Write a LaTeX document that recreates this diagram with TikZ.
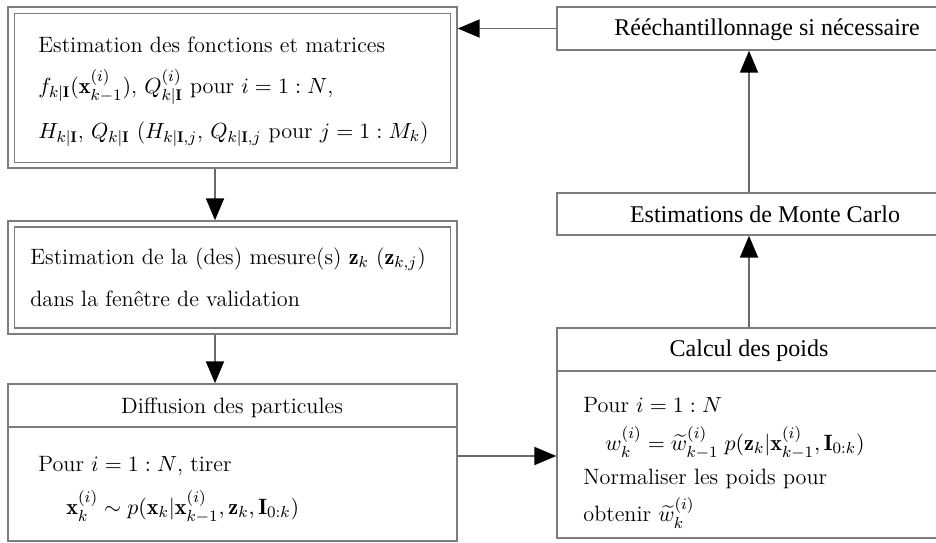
\documentclass[tikz,border=0pt]{standalone}
\usepackage{fontspec}
\usepackage{amsmath}
\newfontfamily\titlefont{Liberation Serif}
\usetikzlibrary{arrows.meta}
\definecolor{linegray}{RGB}{125,125,125}
\definecolor{arrowgray}{RGB}{105,105,105}
\tikzset{
  boxframe/.style={draw=linegray, line width=0.7pt, inner sep=0pt, fill=none},
  bodytext/.style={inner sep=0pt, font=\fontsize{11.1}{13}\selectfont},
  cmtitle/.style={inner sep=0pt, font=\fontsize{11.1}{13}\selectfont},
  tmtitle/.style={inner sep=0pt, font=\titlefont\fontsize{12}{14}\selectfont},
  flow/.style={draw=arrowgray, line width=0.95pt, -{Triangle[length=11pt,width=9pt,color=black]}},
  divider/.style={draw=linegray, line width=0.7pt}
}
\begin{document}
\begin{tikzpicture}[x=0.5pt,y=-0.5pt]
\useasboundingbox (0,0) rectangle (936,542);
\clip (0,0) rectangle (936,542);
\fill[white] (0,0) rectangle (936,542);

% Box 1 (double frame)
\node[boxframe, minimum width=224.5pt, minimum height=80.5pt] (b1) at (232.5,87.5) {};
\node[boxframe, minimum width=218pt, minimum height=74.5pt] (b1i) at (232.5,88) {};
\node[bodytext, anchor=base west] (b1l1) at (38,52) {Estimation des fonctions et matrices};
\node[bodytext, anchor=base west] (b1l2) at (38,93) {$f_{k|\mathbf{I}}(\mathbf{x}^{(i)}_{k-1})$, $Q^{(i)}_{k|\mathbf{I}}$ pour $i=1:N$,};
\node[bodytext, anchor=base west] (b1l3) at (38,138) {$H_{k|\mathbf{I}}$, $Q_{k|\mathbf{I}}$ ($H_{k|\mathbf{I},j}$, $Q_{k|\mathbf{I},j}$ pour $j=1:M_k$)};

% Box 2 (double frame)
\node[boxframe, minimum width=224.5pt, minimum height=56.5pt] (b2) at (232.5,277.5) {};
\node[boxframe, minimum width=218pt, minimum height=50.5pt] (b2i) at (232.5,277.5) {};
\node[bodytext, anchor=base west] (b2l1) at (30,264) {Estimation de la (des) mesure(s) $\mathbf{z}_k$ ($\mathbf{z}_{k,j}$)};
\node[bodytext, anchor=base west] (b2l2) at (30,306) {dans la fen\^etre de validation};

% Box 3 : Diffusion
\node[boxframe, minimum width=224.5pt, minimum height=78.5pt] (b3) at (232.5,462.5) {};
\coordinate (d3) at (0,427);
\draw[divider] (b3.west |- d3) -- (b3.east |- d3);
\node[cmtitle, anchor=base] (b3t) at (232,413) {Diffusion des particules};
\node[bodytext, anchor=base west] (b3l1) at (38,471) {Pour $i=1:N$, tirer};
\node[bodytext, anchor=base west] (b3l2) at (66,514) {$\mathbf{x}^{(i)}_k \sim p(\mathbf{x}_k|\mathbf{x}^{(i)}_{k-1},\mathbf{z}_k,\mathbf{I}_{0:k})$};

% Calcul des poids
\node[boxframe, minimum width=192pt, minimum height=105pt] (cp) at (749,433) {};
\coordinate (dc) at (0,371);
\draw[divider] (cp.west |- dc) -- (cp.east |- dc);
\node[tmtitle, anchor=base] (cpt) at (749,356) {Calcul des poids};
\node[bodytext, anchor=base west] (cpl1) at (583,412) {Pour $i=1:N$};
\node[bodytext, anchor=base west] (cpl2) at (605,450) {$w^{(i)}_k = \widetilde{w}^{(i)}_{k-1}\; p(\mathbf{z}_k|\mathbf{x}^{(i)}_{k-1},\mathbf{I}_{0:k})$};
\node[bodytext, anchor=base west] (cpl3) at (583,484) {Normaliser les poids pour};
\node[bodytext, anchor=base west] (cpl4) at (583,521) {obtenir $\widetilde{w}^{(i)}_k$};

% Monte Carlo
\node[boxframe, minimum width=210pt, minimum height=21pt] (mc) at (767,214) {};
\node[tmtitle, anchor=base] (mct) at (765,222) {Estimations de Monte Carlo};

% Reechantillonnage
\node[boxframe, minimum width=210pt, minimum height=21.5pt] (rs) at (767,28.5) {};
\node[tmtitle, anchor=base] (rst) at (767,35) {R\'e\'echantillonnage si n\'ecessaire};

% Connectors
\coordinate (lx) at (215,0);
\draw[flow] (lx |- b1.south) -- (lx |- b2.north);
\draw[flow] (lx |- b2.south) -- (lx |- b3.north);
\coordinate (hy) at (0,456);
\draw[flow] (b3.east |- hy) -- (cp.west |- hy);
\draw[flow] (cp.north) -- (cp.north |- mc.south);
\draw[flow] (cp.north |- mc.north) -- (cp.north |- rs.south);
\draw[flow] (rs.west) -- (b1.east |- rs.west);
\end{tikzpicture}
\end{document}
